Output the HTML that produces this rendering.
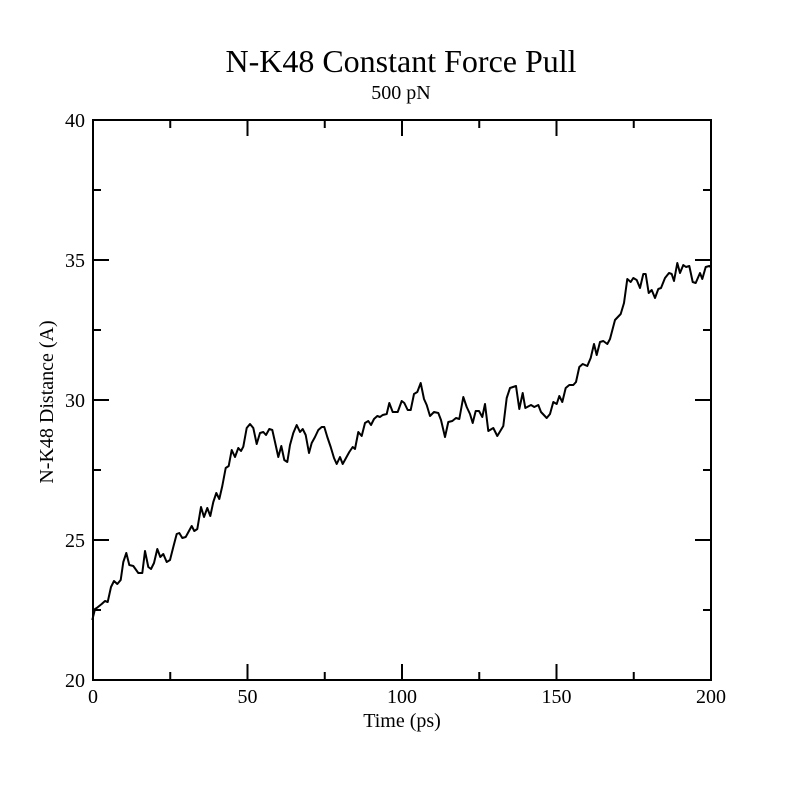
<!DOCTYPE html>
<html><head><meta charset="utf-8"><style>
html,body{margin:0;padding:0;background:#fff;}
svg{display:block;}
text{font-family:"Liberation Serif","DejaVu Serif",serif;fill:#000;}
</style></head><body>
<svg width="800" height="800" viewBox="0 0 800 800" xmlns="http://www.w3.org/2000/svg">
<rect width="800" height="800" fill="#fff"/>
<text x="401" y="72" font-size="32" text-anchor="middle">N-K48 Constant Force Pull</text>
<text x="401" y="99" font-size="20" text-anchor="middle">500 pN</text>
<g stroke="#000" stroke-width="2" fill="none">
<rect x="93" y="120" width="618" height="560"/>
<!-- bottom ticks -->
<path d="M93 680v-16M247.5 680v-16M402 680v-16M556.5 680v-16M711 680v-16M170.25 680v-8M324.75 680v-8M479.25 680v-8M633.75 680v-8"/>
<!-- top ticks -->
<path d="M93 120v16M247.5 120v16M402 120v16M556.5 120v16M711 120v16M170.25 120v8M324.75 120v8M479.25 120v8M633.75 120v8"/>
<!-- left ticks -->
<path d="M93 680h16M93 540h16M93 400h16M93 260h16M93 120h16M93 610h8M93 470h8M93 330h8M93 190h8"/>
<!-- right ticks -->
<path d="M711 680h-16M711 540h-16M711 400h-16M711 260h-16M711 120h-16M711 610h-8M711 470h-8M711 330h-8M711 190h-8"/>
</g>
<g font-size="20" text-anchor="middle">
<text x="93" y="703">0</text>
<text x="247.5" y="703">50</text>
<text x="402" y="703">100</text>
<text x="556.5" y="703">150</text>
<text x="711" y="703">200</text>
</g>
<g font-size="20" text-anchor="end">
<text x="85" y="687">20</text>
<text x="85" y="547">25</text>
<text x="85" y="407">30</text>
<text x="85" y="267">35</text>
<text x="85" y="127">40</text>
</g>
<text x="402" y="727" font-size="20" text-anchor="middle">Time (ps)</text>
<text transform="translate(53,402) rotate(-90)" font-size="20" text-anchor="middle">N-K48 Distance (A)</text>
<polyline fill="none" stroke="#000" stroke-width="2" stroke-linejoin="round" points="
92.3,620 95,609 96.7,608 101.7,604 105,601 107.7,602 111,587 114,581 117.3,584 120.7,580 123.3,562 126.3,553 129.3,565 133.3,566 138.3,573 142.3,573 145,551 148.3,567 151,569 154,563 157.3,549 160.3,557 163.3,554 166.7,562 170,560 173.3,547 176.7,534 179.3,533 182.3,538 185.7,537 191.7,526 194.3,531 197.3,529 201,507 204,517 207.3,508 210.3,516 213.3,502 216.3,493 219.3,499 222.3,486 225.7,468 228.7,466 231.7,450 235,457 238.3,448 241,451
243.3,446.7 246.7,428 250,424 253.3,428 256.7,444 260,433 263.3,432 266,435 269.3,429 272.3,430 275,442 278.3,457 281.3,446 284.3,460 287.3,462 290,445 293.3,433 296.7,425 300,432 302.7,429 305.7,435 309,453 311.7,443 315,437 318.3,430 321.7,427 324.3,427 327.3,437 330.7,447 334,458 336.7,464 340,457 342.7,464 346,458 349.3,452 352.7,447 355,449 358.3,432 361.7,436 365,423 368.3,421 371,425 374,419 377.3,416 380,417 382.7,415 386.7,414 389.3,403 392.7,412 397.7,412 401.7,401 404.3,403 407.7,410 410.7,410 414,394 417.3,392 420.7,383 424,399 426.7,405 430,416 434,412 438.3,413 441,420 445,437 448.3,422 452.3,421 456,418 459.3,419 463.3,397 466.7,407 470,414
472.7,423 475.7,411 479,411 482.3,417 485,404 488.3,431 493.3,428 497.3,436 503.3,426 506.7,398 510,388 516,386 519.3,409 522.7,393 525.3,408 531,405 534.3,407 538.3,405 541,412 546.7,418 550,414 553.3,402 556.7,404 559.3,396 562.3,402 565.7,388 569.3,385 573.3,385 576,382 579.3,367 582.7,364 587.3,366 590.7,358 594,344 596.7,355 600,342 603.3,341 607.3,344 610,339 615,320 620.7,314 624,303 627.3,279 630.7,282 633.3,278 636.7,280 640,288 643.3,274 645.7,274 648.7,293 651.7,290 655,298 658.3,289 661,288 665,278 669,273 671.7,274 674,281 677.3,263 680,273 683.3,265 686,267 689.3,266 692.7,282 695.7,283 700,273 702.3,279 705.7,267 709.3,266 710.7,267"/>
</svg>
</body></html>
